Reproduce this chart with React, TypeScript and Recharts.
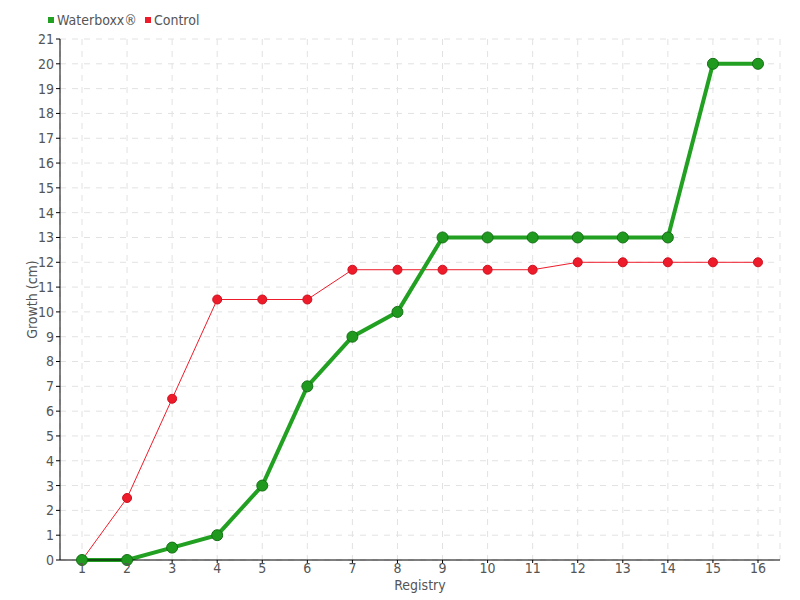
import { LineChart, Line, XAxis, YAxis, CartesianGrid, Legend, Label } from "recharts";

const registry = ["1", "2", "3", "4", "5", "6", "7", "8", "9", "10", "11", "12", "13", "14", "15", "16"];
const waterboxx = [0, 0, 0.5, 1, 3, 7, 9, 10, 13, 13, 13, 13, 13, 13, 20, 20];
const control = [0, 2.5, 6.5, 10.5, 10.5, 10.5, 11.7, 11.7, 11.7, 11.7, 11.7, 12, 12, 12, 12, 12];
const yTicks = Array.from({ length: 22 }, (_, i) => i);

const data = registry.map((r, i) => ({ registry: r, waterboxx: waterboxx[i], control: control[i] }));

const font = "'DejaVu Sans Condensed', 'Liberation Sans Narrow', 'DejaVu Sans', sans-serif";
const textColor = "#555";
const textStyle = { fill: textColor, fontSize: 14, fontFamily: font, fontStretch: "condensed" };

const renderLegend = () => (
  <div style={{ display: "flex", alignItems: "center", fontFamily: font, fontStretch: "condensed", fontSize: 14, color: textColor }}>
    <span style={{ width: 6, height: 6, background: "#22a022", display: "inline-block", marginRight: 3 }} />
    <span style={{ marginRight: 8 }}>Waterboxx®</span>
    <span style={{ width: 6, height: 6, background: "#ee1c2a", display: "inline-block", marginRight: 3 }} />
    <span>Control</span>
  </div>
);

const App = () => {
  return (
    <div style={{ position: "absolute", left: 0, top: 0, width: 800, height: 600, background: "#fff" }}>
      <LineChart width={800} height={600} data={data} margin={{ top: 23, right: 20, bottom: 0, left: 20 }}>
        <CartesianGrid strokeDasharray="6 6" stroke="#e2e2e2" />
        <XAxis
          dataKey="registry"
          padding={{ left: 22, right: 22 }}
          stroke="#000"
          tick={textStyle}
          tickSize={3}
          tickMargin={0}
          height={40}
        >
          <Label value="Registry" position="insideTop" offset={20} style={textStyle} />
        </XAxis>
        <YAxis
          domain={[0, 21]}
          ticks={yTicks}
          interval={0}
          stroke="#000"
          tick={textStyle}
          tickSize={4}
          width={40}
        >
          <Label value="Growth (cm)" angle={-90} position="insideLeft" offset={12} style={{ ...textStyle, textAnchor: "middle" }} />
        </YAxis>
        <Legend verticalAlign="top" align="left" content={renderLegend} wrapperStyle={{ top: 12, left: 48 }} />
        <Line
          dataKey="control"
          name="Control"
          stroke="#ee1c2a"
          strokeWidth={1}
          dot={{ r: 4.5, fill: "#ee1c2a", stroke: "#d01020", strokeWidth: 1 }}
          isAnimationActive={false}
        />
        <Line
          dataKey="waterboxx"
          name="Waterboxx®"
          stroke="#22a022"
          strokeWidth={4}
          dot={{ r: 5.5, fill: "#1f9a1f", stroke: "#157015", strokeWidth: 1 }}
          isAnimationActive={false}
        />
      </LineChart>
    </div>
  );
};

export default App;
